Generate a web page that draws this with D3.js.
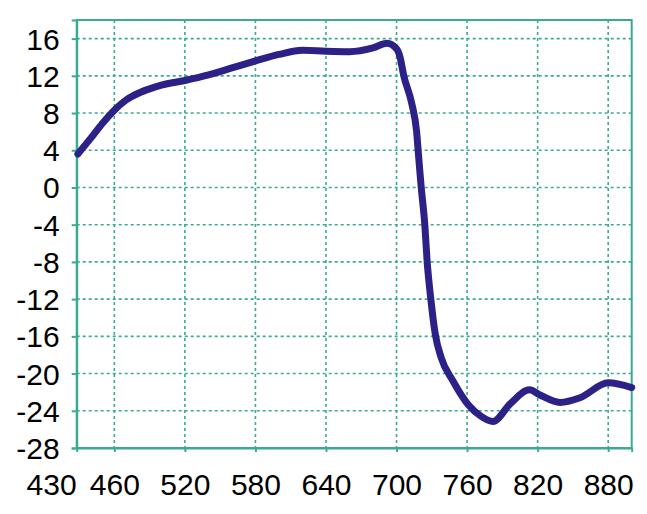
<!DOCTYPE html>
<html>
<head>
<meta charset="utf-8">
<script src="https://cdn.jsdelivr.net/npm/d3@7"></script>
<style>
  body { margin: 0; background: #fff; }
  svg { display: block; }
</style>
</head>
<body>
<div id="display"></div>
<script>
// wavelength (nm) and value
var wavelength = [429, 440, 450, 460, 470, 480, 490, 500, 520, 540, 560, 580, 600, 620, 640, 660, 680, 692, 700, 703, 706, 713, 717, 719, 721, 724, 726, 729, 733, 738, 748, 761, 772, 782, 797, 813, 822, 839, 856, 880, 900];
var value = [3.6, 5.3, 6.9, 8.3, 9.4, 10.1, 10.6, 11.0, 11.5, 12.1, 12.85, 13.6, 14.3, 14.75, 14.65, 14.6, 15.0, 15.5, 14.9, 14.0, 12.1, 9.0, 6.1, 3.0, 0.0, -3.9, -7.9, -11.8, -15.8, -18.3, -20.8, -23.35, -24.6, -25.15, -23.2, -21.75, -22.3, -23.1, -22.6, -21.0, -21.5];
var xTicks = [430, 460, 520, 580, 640, 700, 760, 820, 880];
var yTicks = [16, 12, 8, 4, 0, -4, -8, -12, -16, -20, -24, -28];

var width = 647, height = 514;
var margin = [76.7, 20, 15.3, 66]; // Left, Top, Right, Bottom
var teal = "#3aaa94";

var svg = d3.select("#display").append("svg")
    .attr("width", width)
    .attr("height", height);

var x = d3.scaleLinear().domain([428, 900]).range([margin[0], width - margin[2]]);
var y = d3.scaleLinear().domain([-28, 18]).range([height - margin[3], margin[1]]);

// dashed grid
var grid = svg.append("g");
grid.selectAll(".vgrid")
    .data(xTicks.filter(function (d) { return d !== 430; }))
    .enter().append("line")
    .attr("x1", function (d) { return x(d); })
    .attr("x2", function (d) { return x(d); })
    .attr("y1", y(18))
    .attr("y2", y(-28))
    .attr("stroke", teal)
    .attr("stroke-width", 1.6)
    .attr("stroke-dasharray", "3,3");
grid.selectAll(".hgrid")
    .data(yTicks.filter(function (d) { return d !== -28; }))
    .enter().append("line")
    .attr("x1", x(428))
    .attr("x2", x(900))
    .attr("y1", function (d) { return y(d); })
    .attr("y2", function (d) { return y(d); })
    .attr("stroke", teal)
    .attr("stroke-width", 1.6)
    .attr("stroke-dasharray", "3,3");

// frame
svg.append("rect")
    .attr("x", x(428))
    .attr("y", y(18))
    .attr("width", x(900) - x(428))
    .attr("height", y(-28) - y(18))
    .attr("fill", "none")
    .attr("stroke", teal)
    .attr("stroke-width", 2);

// axes (plain hyphen for negatives, as in the original)
var fmt = function (d) { return String(d); };
var yAxis = svg.append("g")
    .attr("transform", "translate(" + x(428) + ",0)")
    .call(d3.axisLeft(y).tickValues(yTicks).tickSize(5).tickPadding(12).tickFormat(fmt));
var xAxis = svg.append("g")
    .attr("transform", "translate(0," + y(-28) + ")")
    .call(d3.axisBottom(x).tickValues(xTicks).tickSize(4).tickPadding(22).tickFormat(fmt));

[yAxis, xAxis].forEach(function (a) {
    a.select(".domain").attr("stroke", teal).attr("stroke-width", 2);
    a.selectAll(".tick line").attr("stroke", teal).attr("stroke-width", 2);
    a.selectAll("text")
        .attr("fill", "#000")
        .attr("font-family", "'Liberation Sans', Arial, sans-serif")
        .attr("font-size", "30px");
});
yAxis.selectAll("text").attr("dy", "0.35em");
// the 430 label sits left of the axis corner
xAxis.selectAll(".tick")
    .filter(function (d) { return d === 430; })
    .each(function () {
        d3.select(this).select("line").remove();
        d3.select(this).select("text").attr("x", -28);
    });

// the curve
var line = d3.line()
    .x(function (d, i) { return x(wavelength[i]); })
    .y(function (d, i) { return y(value[i]); })
    .curve(d3.curveMonotoneX);

svg.append("path")
    .datum(value)
    .attr("fill", "none")
    .attr("stroke", "#2b2187")
    .attr("stroke-width", 7)
    .attr("stroke-linecap", "round")
    .attr("stroke-linejoin", "round")
    .attr("d", line);
</script>
</body>
</html>
